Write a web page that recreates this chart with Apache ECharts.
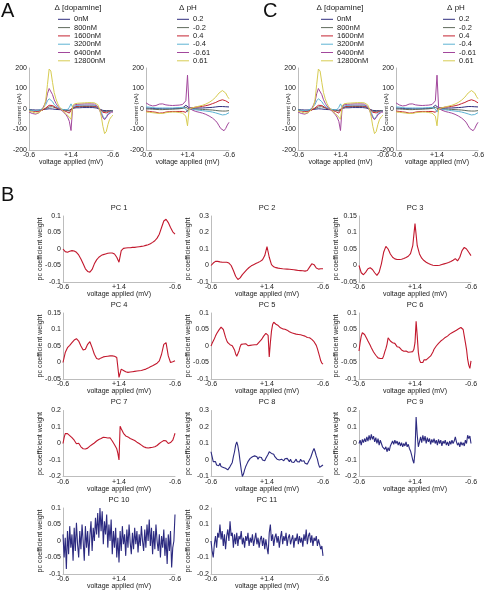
<!DOCTYPE html>
<html>
<head>
<meta charset="utf-8">
<script src="https://cdn.jsdelivr.net/npm/echarts@6/dist/echarts.min.js"></script>
<style>html,body{margin:0;padding:0;background:#fff;}#c{width:504px;height:591px;}</style>
</head>
<body>
<div id="c"></div>
<script>
// ---------- data ----------
const xTickLabels = ['-0.6', '+1.4', '-0.6'];
const dopamineLabels = ['0nM', '800nM', '1600nM', '3200nM', '6400nM', '12800nM'];
const phLabels = ['0.2', '-0.2', '0.4', '-0.4', '-0.61', '0.61'];
const pcTitles = ['PC 1','PC 2','PC 3','PC 4','PC 5','PC 6','PC 7','PC 8','PC 9','PC 10','PC 11'];

// dopamine current traces (nA), sampled evenly along the -0.6 -> +1.4 -> -0.6 sweep
const da0nM    = [-3,-3,-4,-4,-5,-5,-5,-4,-3,-2,-1,0,1,1,0,-1,-2,-2,-3,-3,-4,-4,-5,-5,-6,-8,3,5,6,6,6,7,7,7,7,7,7,7,7,6,5,3,0,-4,-7,-8,-8,-8,-8,-8,-8];
const da800nM  = [-5,-6,-7,-8,-8,-8,-7,-6,-4,-2,2,6,10,12,11,8,5,3,1,0,-2,-4,-6,-8,-10,-14,5,8,10,11,11,12,12,12,12,12,12,12,12,11,9,5,0,-6,-11,-14,-12,-10,-9,-9,-9];
const da1600nM = [-8,-9,-10,-11,-12,-12,-11,-9,-6,-2,5,12,18,20,17,12,7,3,0,-3,-6,-9,-12,-16,-20,-28,6,10,12,13,14,14,15,15,15,15,15,15,15,14,12,7,0,-8,-16,-22,-19,-15,-12,-11,-11];
const da3200nM = [-5,-6,-7,-8,-8,-8,-6,-3,2,10,22,40,50,48,36,22,13,7,2,-1,-3,-4,-4,-2,8,25,8,15,17,18,18,18,19,19,19,19,19,19,19,18,16,10,0,-15,-35,-48,-38,-22,-14,-11,-10];
const da6400nM = [-15,-18,-22,-25,-25,-22,-18,-10,0,8,35,75,100,95,70,45,28,15,5,-3,-10,-18,-28,-40,-60,-105,10,20,22,23,24,24,25,25,25,25,25,25,25,24,20,10,-5,-25,-42,-52,-42,-28,-20,-16,-15];
const da12800nM= [-10,-12,-15,-18,-20,-20,-18,-12,-2,10,45,120,195,185,130,80,50,28,12,2,-8,-15,-22,-30,-40,-50,15,25,27,28,28,29,30,30,31,31,31,31,30,30,28,20,0,-35,-85,-120,-110,-75,-50,-38,-30];

// pH current traces (nA)
const ph02   = [5,5,4,4,3,3,2,2,2,2,1,1,1,1,1,2,2,2,3,3,3,4,5,10,18,26,6,4,4,4,4,5,5,5,5,5,6,6,7,8,8,9,10,11,12,12,12,12,11,10,10];
const phM02  = [0,0,0,-1,-1,-2,-2,-3,-3,-3,-3,-2,-2,-2,-1,-1,-1,0,0,0,1,2,3,5,8,12,0,0,0,0,-1,-1,-1,-2,-2,-2,-3,-3,-4,-4,-5,-6,-7,-8,-9,-10,-10,-10,-10,-9,-8];
const ph04   = [-10,-11,-12,-13,-14,-15,-16,-18,-20,-20,-19,-17,-15,-14,-13,-12,-12,-12,-12,-12,-12,-12,-12,-14,-16,-20,2,4,6,8,9,10,11,12,13,14,16,18,20,23,26,29,32,36,40,43,45,44,40,35,30];
const phM04  = [10,10,9,8,7,6,5,5,5,5,5,5,5,5,5,5,5,5,6,6,7,7,8,5,0,-15,0,-1,-2,-3,-4,-5,-6,-7,-8,-9,-10,-11,-12,-13,-15,-17,-19,-21,-24,-27,-29,-30,-27,-22,-18];
const phM061 = [30,25,20,17,15,15,17,20,24,26,25,22,20,19,18,17,17,17,18,18,19,20,22,26,40,165,5,-2,-6,-9,-12,-14,-16,-18,-20,-23,-26,-30,-34,-38,-44,-50,-58,-68,-82,-95,-104,-106,-95,-78,-65];
const ph061  = [-15,-15,-16,-17,-18,-19,-20,-21,-22,-23,-22,-20,-18,-17,-16,-15,-15,-15,-15,-16,-17,-18,-20,-24,-35,-82,0,4,6,8,10,12,14,16,18,21,24,28,32,37,43,50,58,68,78,86,90,88,78,62,50];

// principal component coefficient weights
const pc1 = [0,-0.008,-0.01,-0.007,-0.005,-0.006,-0.01,-0.018,-0.03,-0.045,-0.06,-0.068,-0.07,-0.062,-0.045,-0.033,-0.025,-0.02,-0.017,-0.015,-0.013,-0.012,-0.012,-0.015,-0.025,-0.04,-0.005,0.002,0.003,0.004,0.004,0.005,0.005,0.006,0.007,0.008,0.009,0.011,0.013,0.016,0.02,0.025,0.033,0.045,0.065,0.085,0.09,0.08,0.065,0.052,0.045];
const pc2 = [0,0.015,0.025,0.025,0.022,0.02,0.02,0.02,0.015,0,-0.03,-0.065,-0.085,-0.075,-0.055,-0.04,-0.025,-0.012,-0.002,0.005,0.012,0.018,0.025,0.035,0.06,0.115,0.05,0.005,-0.008,-0.013,-0.016,-0.018,-0.02,-0.021,-0.022,-0.023,-0.024,-0.026,-0.028,-0.03,-0.031,-0.032,-0.034,-0.03,-0.01,0.01,0.005,-0.015,-0.022,-0.02,-0.02];
const pc3 = [0,-0.022,-0.028,-0.02,-0.01,-0.007,-0.012,-0.022,-0.03,-0.02,0.005,0.04,0.058,0.05,0.035,0.025,0.02,0.018,0.018,0.019,0.021,0.024,0.028,0.036,0.06,0.127,0.06,0.035,0.022,0.015,0.01,0.006,0.003,0.001,0,0,0.001,0.003,0.005,0.007,0.009,0.012,0.016,0.021,0.014,0.025,0.045,0.055,0.05,0.04,0.03];
const pc4 = [0,0.03,0.045,0.052,0.06,0.068,0.072,0.065,0.05,0.038,0.04,0.055,0.063,0.045,0.025,0.012,0.01,0.014,0.017,0.018,0.019,0.02,0.02,0.019,0.015,-0.045,-0.02,-0.024,-0.028,-0.03,-0.029,-0.028,-0.027,-0.026,-0.025,-0.024,-0.022,-0.02,-0.017,-0.013,-0.01,-0.006,-0.002,0.005,0.025,0.055,0.06,0.02,0,0.002,0.005];
const pc5 = [0,0.008,0.015,0.022,0.03,0.037,0.043,0.048,0.052,0.057,0.058,0.05,0.038,0.026,0.017,0.01,0.005,0.004,0.002,0.001,-0.002,-0.012,-0.024,-0.031,-0.028,-0.015,-0.002,0.005,0.008,0.006,0.004,0.007,0.003,0.001,0.004,0.002,0.005,0.003,0,0.004,0.006,0.004,0.008,0.012,0.016,0.019,0.024,0.03,0.035,0.038,0.04,0.032,-0.033,0.01,0.045,0.065,0.072,0.07,0.066,0.06,0.062,0.057,0.055,0.057,0.052,0.05,0.051,0.047,0.048,0.045,0.043,0.044,0.04,0.041,0.038,0.039,0.036,0.037,0.035,0.033,0.034,0.031,0.032,0.029,0.03,0.027,0.026,0.024,0.025,0.022,0.02,0.017,0.013,0.008,0.002,-0.008,-0.02,-0.032,-0.045,-0.052,-0.055];
const pc6 = [-0.015,0.01,0.03,0.04,0.038,0.035,0.03,0.022,0.015,0.01,0.002,-0.005,-0.01,-0.018,-0.022,-0.028,-0.032,-0.036,-0.04,-0.038,-0.043,-0.038,-0.03,-0.018,-0.008,0.005,0.025,0.02,0.015,0.018,0.01,0.006,0.008,0.002,-0.002,-0.006,-0.004,-0.01,-0.012,-0.01,-0.016,-0.018,-0.015,-0.02,-0.019,-0.022,-0.018,-0.02,-0.017,-0.01,0.01,0.075,0.03,-0.02,-0.042,-0.05,-0.046,-0.05,-0.042,-0.045,-0.042,-0.04,-0.036,-0.034,-0.03,-0.024,-0.018,-0.01,-0.005,0,0.005,0.008,0.01,0.015,0.017,0.02,0.022,0.026,0.028,0.03,0.033,0.036,0.037,0.04,0.04,0.044,0.046,0.048,0.05,0.052,0.055,0.056,0.06,0.05,0.03,0.01,-0.01,-0.04,-0.058,-0.068,-0.045];
const pc7 = [0,0.035,0.06,0.065,0.06,0.055,0.048,0.042,0.035,0.028,0.02,0.008,-0.002,-0.008,0.002,-0.006,-0.02,-0.025,-0.032,-0.036,-0.033,-0.03,-0.028,-0.022,-0.016,-0.012,-0.006,-0.002,0.003,0.01,0.015,0.02,0.024,0.028,0.03,0.036,0.038,0.042,0.036,0.038,0.033,0.04,0.035,0.025,0.015,0.004,-0.008,-0.02,-0.032,-0.06,-0.1,0.105,0.09,0.078,0.062,0.052,0.046,0.042,0.04,0.034,0.03,0.028,0.024,0.02,0.018,0.012,0.008,0.004,0,-0.003,-0.01,-0.015,-0.02,-0.022,-0.025,-0.024,-0.027,-0.022,-0.025,-0.02,-0.023,-0.018,-0.02,-0.015,-0.012,-0.006,0,0.005,0.01,0.014,0.018,0.02,0.016,0.008,0,0.002,0.006,0.01,0.02,0.04,0.062];
const pc8 = [0.05,0.02,-0.01,-0.02,-0.01,-0.03,-0.025,-0.035,-0.02,-0.04,-0.03,-0.045,-0.035,-0.05,-0.045,-0.06,-0.055,-0.04,-0.03,-0.015,0.02,0.05,0.09,0.11,0.085,0.045,-0.01,-0.06,-0.1,-0.085,-0.06,-0.04,-0.025,-0.01,0,0.01,0.005,0.02,0.01,0.025,0.015,0.02,0.005,0.018,0.01,0.015,0,0.01,-0.005,0.01,0.02,0.035,0.05,0.055,0.04,0.045,0.035,0.02,0.03,0.005,0.015,0,0.012,0.005,0.015,-0.005,0.008,-0.002,0.01,0,-0.01,0.005,-0.012,-0.002,-0.015,-0.005,0.005,-0.01,0,-0.012,0.005,-0.008,-0.015,-0.005,-0.02,-0.01,-0.025,-0.01,0,0.015,0.035,0.055,0.07,0.05,0.025,0.005,-0.025,-0.045,-0.05,-0.035,-0.03];
const pc9 = [0,0.02,-0.01,0.025,0.005,0.03,0.01,0.04,0.015,0.05,0.02,0.055,0.025,0.045,0.01,0.035,0,0.03,-0.01,0.02,0,-0.02,-0.01,-0.035,-0.02,-0.05,-0.025,-0.045,-0.015,0,0.015,-0.005,0.02,0,0.015,-0.01,0.01,-0.015,0.005,-0.02,0,-0.015,0.01,-0.02,-0.005,-0.03,-0.045,-0.07,-0.1,-0.12,-0.05,0.16,0.05,-0.02,0.01,0.04,0.005,0.05,0.015,0.045,0,0.035,0.01,0.03,-0.005,0.025,0.005,0.03,0,0.02,-0.01,0.025,0,0.02,-0.015,0.015,0,0.02,-0.01,0.01,-0.015,0.015,-0.005,0.02,0,0.015,0.04,0.01,-0.01,0.005,-0.02,0.01,-0.01,0.005,-0.015,0.02,0,0.05,0.03,0.045,0];
const pc10 = [0.02,-0.05,0.01,-0.085,0.03,-0.04,0.045,-0.02,0.02,-0.06,0.04,-0.03,0.055,-0.01,-0.05,0.03,-0.025,0.05,0,-0.06,0.045,-0.02,0.03,-0.045,0.015,0.06,-0.03,0.04,0,0.07,0.02,0.085,0.01,0.1,0.03,0.09,-0.01,0.06,0.02,0.08,-0.02,0.05,0,0.065,-0.04,0.03,-0.02,0.04,-0.05,0.01,-0.065,0.03,-0.03,0.045,-0.01,0.02,-0.045,0.035,-0.02,0.05,-0.005,-0.04,0.025,-0.025,0.04,-0.01,0.03,-0.035,0.02,-0.015,0.045,0,-0.03,0.035,-0.02,0.05,0,0.065,-0.015,0.04,-0.04,0.03,-0.025,0.05,0,-0.03,0.02,-0.05,0.015,-0.02,0.035,-0.045,0.01,-0.07,0.02,-0.03,0.03,-0.08,-0.02,0,0.08];
const pc11 = [0,-0.06,-0.1,-0.02,0.03,-0.04,0.05,0.02,0.1,0.01,0.06,-0.03,0.04,-0.05,0.03,0.07,0,0.12,0.03,0.05,-0.04,0.04,-0.02,0.05,-0.03,0.03,0.01,0.06,-0.02,0.02,-0.04,0.03,0,0.05,-0.03,0.02,-0.01,0.04,-0.03,0.01,0.05,-0.02,0.02,-0.04,0.01,0.03,-0.03,0.02,-0.05,0.01,-0.04,-0.08,0.05,0.1,0,0.04,-0.03,0.02,0.045,-0.01,0.03,-0.04,0.02,0.06,-0.02,0.03,0,0.05,-0.03,0.02,0.04,-0.02,0.01,0.035,-0.04,0.02,0,0.045,-0.02,0.03,-0.01,0.02,-0.035,0.04,0,0.07,-0.02,0.03,0.05,-0.01,0.035,-0.03,0.02,0,0.03,-0.03,0.01,-0.02,-0.05,-0.03,-0.09];

// y-axis ranges [min, max, interval]
const topRange = [-200, 200, 100];
const pcRanges = [[-0.1,0.1,0.05],[-0.1,0.3,0.1],[-0.05,0.15,0.05],[-0.05,0.15,0.05],[-0.1,0.1,0.05],[-0.1,0.1,0.05],[-0.2,0.2,0.1],[-0.1,0.3,0.1],[-0.2,0.2,0.1],[-0.1,0.1,0.05],[-0.2,0.2,0.1]];

// ---------- styling / layout ----------
const FONT = '"Liberation Sans", Arial, sans-serif';
const TXT = '#1a1a1a';
const AXC = '#bdbdbd';
const traceColors = ['#2e2c7e', '#5f6a5c', '#c42230', '#5db3d3', '#a2479c', '#d7cc52'];
const pcColors = ['#c2182d','#c2182d','#c2182d','#c2182d','#c2182d','#c2182d','#c2182d','#2c2a80','#2c2a80','#2c2a80','#2c2a80'];

const daSeries = [da0nM, da800nM, da1600nM, da3200nM, da6400nM, da12800nM];
const phSeries = [ph02, phM02, ph04, phM04, phM061, ph061];
const pcSeries = [pc1, pc2, pc3, pc4, pc5, pc6, pc7, pc8, pc9, pc10, pc11];

const topPanels = [
  {left: 29, width: 84, kind: 'da'},
  {left: 146, width: 83, kind: 'ph'},
  {left: 298, width: 85, kind: 'da'},
  {left: 396, width: 82, kind: 'ph'}
];
const topY = 68, topH = 82;
const pcCols = [63, 211, 359], pcRows = [216, 313, 410.5, 508], pcW = 112, pcH = 66;

function toXY(arr) { const n = arr.length; return arr.map((v, i) => [i * 100 / (n - 1), v]); }

const grids = [], xAxes = [], yAxes = [], series = [], titles = [];

function addPanel(left, top, width, height, range, yName, yGap, yNameSize) {
  const idx = grids.length;
  grids.push({left: left, top: top, width: width, height: height, containLabel: false, outerBoundsMode: 'none'});
  xAxes.push({
    type: 'value', gridIndex: idx, min: 0, max: 100, interval: 50,
    axisLine: {show: true, onZero: false, lineStyle: {color: AXC, width: 1}},
    axisTick: {show: false}, splitLine: {show: false},
    axisLabel: {color: TXT, fontSize: 7, fontFamily: FONT, margin: 2, showMinLabel: true, showMaxLabel: true,
      formatter: v => xTickLabels[Math.round(v / 50)]},
    name: 'voltage applied (mV)', nameLocation: 'middle', nameGap: 9, nameMoveOverlap: false,
    nameTextStyle: {color: TXT, fontSize: 7, fontFamily: FONT}
  });
  yAxes.push({
    type: 'value', gridIndex: idx, min: range[0], max: range[1], interval: range[2],
    axisLine: {show: true, onZero: false, lineStyle: {color: AXC, width: 1}},
    axisTick: {show: false}, splitLine: {show: false},
    axisLabel: {color: TXT, fontSize: 7, fontFamily: FONT, margin: 2, showMinLabel: true, showMaxLabel: true},
    name: yName, nameLocation: 'middle', nameGap: yGap, nameMoveOverlap: false,
    nameTextStyle: {color: TXT, fontSize: yNameSize, fontFamily: FONT}
  });
  return idx;
}

// top panels (A and C)
topPanels.forEach(p => {
  const gi = addPanel(p.left, topY, p.width, topH, topRange, 'current (nA)', 7, 6);
  const names = p.kind === 'da' ? dopamineLabels : phLabels;
  const data = p.kind === 'da' ? daSeries : phSeries;
  data.forEach((arr, k) => {
    series.push({
      type: 'line', name: names[k], xAxisIndex: gi, yAxisIndex: gi,
      data: toXY(arr), symbol: 'none', showSymbol: false, animation: false,
      lineStyle: {width: 1, color: traceColors[k]}, itemStyle: {color: traceColors[k]}
    });
  });
});

// B panels
pcSeries.forEach((arr, k) => {
  const col = k % 3, row = Math.floor(k / 3);
  const gi = addPanel(pcCols[col], pcRows[row], pcW, pcH, pcRanges[k], 'pc coefficient weight', 19, 7);
  series.push({
    type: 'line', name: pcTitles[k], xAxisIndex: gi, yAxisIndex: gi,
    data: toXY(arr), symbol: 'none', animation: false,
    lineStyle: {width: 1.1, color: pcColors[k]}
  });
  titles.push({
    text: pcTitles[k], left: pcCols[col] + pcW / 2, top: pcRows[row] - 12.5, textAlign: 'center', padding: 0,
    textStyle: {color: TXT, fontSize: 7.5, fontWeight: 'normal', fontFamily: FONT}
  });
});

// legend headings
const headStyle = {color: TXT, fontSize: 8, fontWeight: 'normal', fontFamily: FONT};
[[78, 'Δ [dopamine]'], [188, 'Δ pH'], [340, 'Δ [dopamine]'], [456, 'Δ pH']].forEach(h => {
  titles.push({text: h[1], left: h[0], top: 4, textAlign: 'center', padding: 0, textStyle: headStyle});
});
// panel letters
[[1, 1, 'A'], [1, 185, 'B'], [263, 1, 'C']].forEach(l => {
  titles.push({text: l[2], left: l[0], top: l[1], padding: 0,
    textStyle: {color: '#111', fontSize: 20, fontWeight: 'normal', fontFamily: FONT}});
});

function mkLegend(left, names) {
  return {
    data: names, left: left, top: 15.3, orient: 'vertical', padding: 0,
    icon: 'path://M0,0 L12,0 L12,1 L0,1 Z',
    itemWidth: 12, itemHeight: 8, itemGap: 0.3, selectedMode: false,
    textStyle: {color: TXT, fontSize: 7.5, fontFamily: FONT, lineHeight: 8, padding: [0, 0, 0, -1]}
  };
}
const legends = [mkLegend(58, dopamineLabels), mkLegend(177, phLabels), mkLegend(321, dopamineLabels), mkLegend(443, phLabels)];

const chart = echarts.init(document.getElementById('c'), null, {renderer: 'canvas'});
chart.setOption({
  backgroundColor: '#fff',
  animation: false,
  title: titles,
  legend: legends,
  grid: grids,
  xAxis: xAxes,
  yAxis: yAxes,
  series: series
});
</script>
</body>
</html>
